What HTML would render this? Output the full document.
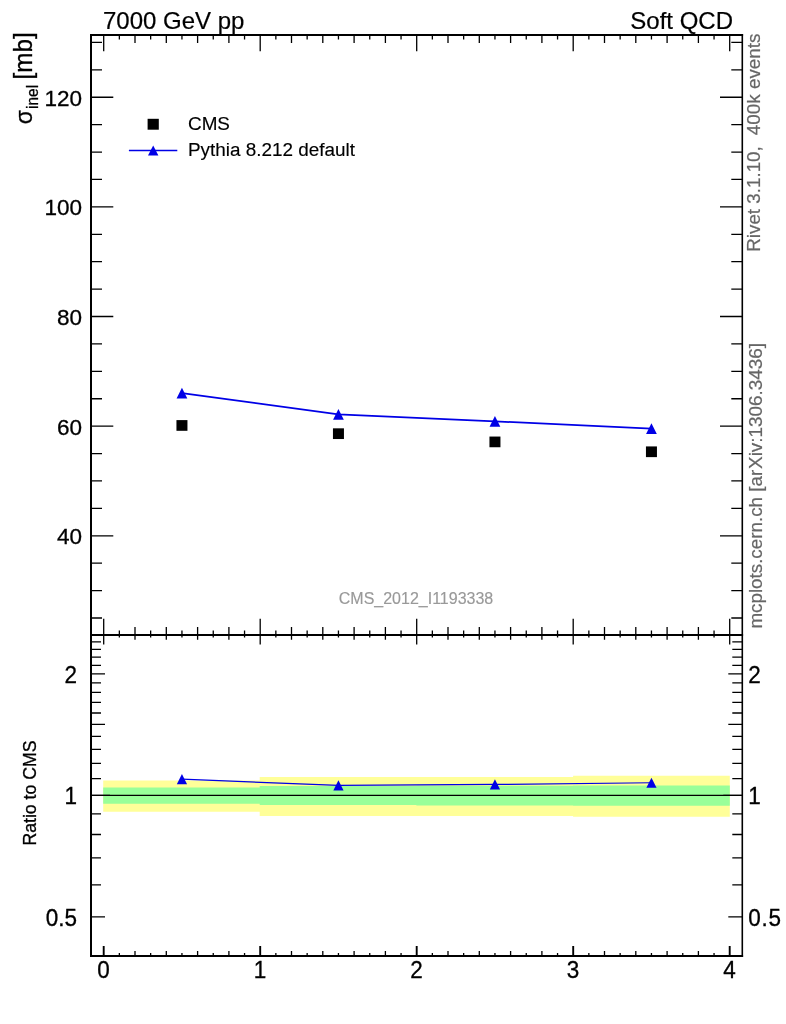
<!DOCTYPE html>
<html lang="en"><head><meta charset="utf-8"><title>CMS_2012_I1193338 – σinel – 7000 GeV pp – Soft QCD</title>
<style>html,body{margin:0;padding:0;background:#fff}svg{display:block}</style></head>
<body>
<svg width="786" height="1024" viewBox="0 0 786 1024" font-family="Liberation Sans, Arial, Helvetica, sans-serif">
<rect width="786" height="1024" fill="#fff"/>
<path d="M103.2 780.4V780.4H259.7V777.0H416.4V777.0H573.1V775.8H729.8V816.8H573.1V815.9H416.4V815.9H259.7V811.8H103.2Z" fill="#ffff99"/>
<path d="M103.2 787.6V787.6H259.7V786.1H416.4V785.8H573.1V785.6H729.8V805.7H573.1V805.5H416.4V805.0H259.7V803.7H103.2Z" fill="#99ff99"/>
<line x1="91.0" y1="795.40" x2="742.3" y2="795.40" stroke="#000" stroke-width="1.2"/>
<path d="M91.00 618.02H102.00M742.30 618.02H731.30M91.00 590.61H102.00M742.30 590.61H731.30M91.00 563.20H102.00M742.30 563.20H731.30M91.00 535.79H113.30M742.30 535.79H720.00M91.00 508.38H102.00M742.30 508.38H731.30M91.00 480.97H102.00M742.30 480.97H731.30M91.00 453.56H102.00M742.30 453.56H731.30M91.00 426.15H113.30M742.30 426.15H720.00M91.00 398.74H102.00M742.30 398.74H731.30M91.00 371.33H102.00M742.30 371.33H731.30M91.00 343.92H102.00M742.30 343.92H731.30M91.00 316.51H113.30M742.30 316.51H720.00M91.00 289.10H102.00M742.30 289.10H731.30M91.00 261.69H102.00M742.30 261.69H731.30M91.00 234.28H102.00M742.30 234.28H731.30M91.00 206.87H113.30M742.30 206.87H720.00M91.00 179.46H102.00M742.30 179.46H731.30M91.00 152.05H102.00M742.30 152.05H731.30M91.00 124.64H102.00M742.30 124.64H731.30M91.00 97.23H113.30M742.30 97.23H720.00M91.00 69.82H102.00M742.30 69.82H731.30M91.00 42.41H102.00M742.30 42.41H731.30M91.00 916.90H105.00M742.30 916.90H728.30M91.00 884.94H101.00M742.30 884.94H732.30M91.00 857.92H101.00M742.30 857.92H732.30M91.00 834.51H101.00M742.30 834.51H732.30M91.00 813.87H101.00M742.30 813.87H732.30M91.00 795.40H110.00M742.30 795.40H723.30M91.00 778.69H101.00M742.30 778.69H732.30M91.00 763.44H101.00M742.30 763.44H732.30M91.00 749.41H101.00M742.30 749.41H732.30M91.00 736.42H101.00M742.30 736.42H732.30M91.00 724.33H105.00M742.30 724.33H728.30M91.00 713.02H101.00M742.30 713.02H732.30M91.00 702.39H101.00M742.30 702.39H732.30M91.00 692.37H101.00M742.30 692.37H732.30M91.00 682.90H101.00M742.30 682.90H732.30M91.00 673.90H105.00M742.30 673.90H728.30M91.00 665.35H101.00M742.30 665.35H732.30M91.00 657.20H101.00M742.30 657.20H732.30M91.00 649.41H101.00M742.30 649.41H732.30M91.00 641.95H101.00M742.30 641.95H732.30M103.70 35.00V51.20M103.70 635.00V618.80M103.70 635.00V644.60M119.35 35.00V39.50M119.35 635.00V630.50M119.35 635.00V637.60M119.35 956.00V953.10M135.00 35.00V43.00M135.00 635.00V627.00M135.00 635.00V639.70M135.00 956.00V951.00M150.65 35.00V39.50M150.65 635.00V630.50M150.65 635.00V637.60M150.65 956.00V953.10M166.30 35.00V43.00M166.30 635.00V627.00M166.30 635.00V639.70M166.30 956.00V951.00M181.95 35.00V39.50M181.95 635.00V630.50M181.95 635.00V637.60M181.95 956.00V953.10M197.60 35.00V43.00M197.60 635.00V627.00M197.60 635.00V639.70M197.60 956.00V951.00M213.25 35.00V39.50M213.25 635.00V630.50M213.25 635.00V637.60M213.25 956.00V953.10M228.90 35.00V43.00M228.90 635.00V627.00M228.90 635.00V639.70M228.90 956.00V951.00M244.55 35.00V39.50M244.55 635.00V630.50M244.55 635.00V637.60M244.55 956.00V953.10M260.20 35.00V51.20M260.20 635.00V618.80M260.20 635.00V644.60M275.85 35.00V39.50M275.85 635.00V630.50M275.85 635.00V637.60M275.85 956.00V953.10M291.50 35.00V43.00M291.50 635.00V627.00M291.50 635.00V639.70M291.50 956.00V951.00M307.15 35.00V39.50M307.15 635.00V630.50M307.15 635.00V637.60M307.15 956.00V953.10M322.80 35.00V43.00M322.80 635.00V627.00M322.80 635.00V639.70M322.80 956.00V951.00M338.45 35.00V39.50M338.45 635.00V630.50M338.45 635.00V637.60M338.45 956.00V953.10M354.10 35.00V43.00M354.10 635.00V627.00M354.10 635.00V639.70M354.10 956.00V951.00M369.75 35.00V39.50M369.75 635.00V630.50M369.75 635.00V637.60M369.75 956.00V953.10M385.40 35.00V43.00M385.40 635.00V627.00M385.40 635.00V639.70M385.40 956.00V951.00M401.05 35.00V39.50M401.05 635.00V630.50M401.05 635.00V637.60M401.05 956.00V953.10M416.70 35.00V51.20M416.70 635.00V618.80M416.70 635.00V644.60M432.35 35.00V39.50M432.35 635.00V630.50M432.35 635.00V637.60M432.35 956.00V953.10M448.00 35.00V43.00M448.00 635.00V627.00M448.00 635.00V639.70M448.00 956.00V951.00M463.65 35.00V39.50M463.65 635.00V630.50M463.65 635.00V637.60M463.65 956.00V953.10M479.30 35.00V43.00M479.30 635.00V627.00M479.30 635.00V639.70M479.30 956.00V951.00M494.95 35.00V39.50M494.95 635.00V630.50M494.95 635.00V637.60M494.95 956.00V953.10M510.60 35.00V43.00M510.60 635.00V627.00M510.60 635.00V639.70M510.60 956.00V951.00M526.25 35.00V39.50M526.25 635.00V630.50M526.25 635.00V637.60M526.25 956.00V953.10M541.90 35.00V43.00M541.90 635.00V627.00M541.90 635.00V639.70M541.90 956.00V951.00M557.55 35.00V39.50M557.55 635.00V630.50M557.55 635.00V637.60M557.55 956.00V953.10M573.20 35.00V51.20M573.20 635.00V618.80M573.20 635.00V644.60M588.85 35.00V39.50M588.85 635.00V630.50M588.85 635.00V637.60M588.85 956.00V953.10M604.50 35.00V43.00M604.50 635.00V627.00M604.50 635.00V639.70M604.50 956.00V951.00M620.15 35.00V39.50M620.15 635.00V630.50M620.15 635.00V637.60M620.15 956.00V953.10M635.80 35.00V43.00M635.80 635.00V627.00M635.80 635.00V639.70M635.80 956.00V951.00M651.45 35.00V39.50M651.45 635.00V630.50M651.45 635.00V637.60M651.45 956.00V953.10M667.10 35.00V43.00M667.10 635.00V627.00M667.10 635.00V639.70M667.10 956.00V951.00M682.75 35.00V39.50M682.75 635.00V630.50M682.75 635.00V637.60M682.75 956.00V953.10M698.40 35.00V43.00M698.40 635.00V627.00M698.40 635.00V639.70M698.40 956.00V951.00M714.05 35.00V39.50M714.05 635.00V630.50M714.05 635.00V637.60M714.05 956.00V953.10M729.70 35.00V51.20M729.70 635.00V618.80M729.70 635.00V644.60" stroke="#000" stroke-width="1.3" fill="none"/>
<path d="M103.70 956.00V946.00M260.20 956.00V946.00M416.70 956.00V946.00M573.20 956.00V946.00M729.70 956.00V946.00" stroke="#000" stroke-width="1.9" fill="none"/>
<path d="M742.3 34.0V957.0" stroke="#000" stroke-width="1.6" fill="none"/>
<path d="M91.0 34.0V957.0 M90.0 35.0H743.0999999999999 M90.0 635.0H743.0999999999999 M90.0 956.0H743.0999999999999" stroke="#000" stroke-width="2" fill="none"/>
<polyline points="181.95,393.09 338.45,414.42 494.95,421.33 651.45,428.62" stroke="#0000e6" stroke-width="1.7" fill="none"/>
<polygon points="181.95,387.79 187.35,398.39 176.55,398.39" fill="#0000e6"/>
<polygon points="338.45,409.12 343.85,419.72 333.05,419.72" fill="#0000e6"/>
<polygon points="494.95,416.03 500.35,426.63 489.55,426.63" fill="#0000e6"/>
<polygon points="651.45,423.32 656.85,433.92 646.05,433.92" fill="#0000e6"/>
<rect x="176.45" y="420.10" width="11" height="10.7" fill="#000"/>
<rect x="332.95" y="428.33" width="11" height="10.7" fill="#000"/>
<rect x="489.45" y="436.55" width="11" height="10.7" fill="#000"/>
<rect x="645.95" y="446.42" width="11" height="10.7" fill="#000"/>
<polyline points="181.95,779.20 338.45,785.42 494.95,784.47 651.45,782.74" stroke="#0000e6" stroke-width="1.2" fill="none"/>
<polygon points="181.95,774.10 187.05,784.30 176.85,784.30" fill="#0000e6"/>
<polygon points="338.45,780.32 343.55,790.52 333.35,790.52" fill="#0000e6"/>
<polygon points="494.95,779.37 500.05,789.57 489.85,789.57" fill="#0000e6"/>
<polygon points="651.45,777.64 656.55,787.84 646.35,787.84" fill="#0000e6"/>
<rect x="147.6" y="118.8" width="11.2" height="10.9" fill="#000"/>
<line x1="128.9" y1="150.4" x2="177.3" y2="150.4" stroke="#0000e6" stroke-width="1.5"/>
<polygon points="153.20,145.45 158.40,155.45 148.00,155.45" fill="#0000e6"/>
<text transform="translate(188.00 129.70) scale(1 0.95)" font-size="18.9" fill="#000" stroke="#000" stroke-width="0.15">CMS</text>
<text transform="translate(188.00 155.60) scale(1 0.95)" font-size="18.9" fill="#000" stroke="#000" stroke-width="0.15">Pythia 8.212 default</text>
<text transform="translate(103.00 28.80) scale(1 1.03)" font-size="24" fill="#000" stroke="#000" stroke-width="0.2">7000 GeV pp</text>
<text transform="translate(733.00 28.80) scale(1 1.03)" font-size="24" text-anchor="end" fill="#000" stroke="#000" stroke-width="0.2">Soft QCD</text>
<text transform="translate(82.00 544.39) scale(1 1.0)" font-size="22.5" text-anchor="end" fill="#000" stroke="#000" stroke-width="0.3">40</text>
<text transform="translate(82.00 434.75) scale(1 1.0)" font-size="22.5" text-anchor="end" fill="#000" stroke="#000" stroke-width="0.3">60</text>
<text transform="translate(82.00 325.11) scale(1 1.0)" font-size="22.5" text-anchor="end" fill="#000" stroke="#000" stroke-width="0.3">80</text>
<text transform="translate(82.00 215.47) scale(1 1.0)" font-size="22.5" text-anchor="end" fill="#000" stroke="#000" stroke-width="0.3">100</text>
<text transform="translate(82.00 105.83) scale(1 1.0)" font-size="22.5" text-anchor="end" fill="#000" stroke="#000" stroke-width="0.3">120</text>
<text transform="translate(77.00 925.70) scale(1 1.06)" font-size="22.5" text-anchor="end" fill="#000" stroke="#000" stroke-width="0.3">0.5</text>
<text transform="translate(748.30 925.70) scale(1 1.06)" font-size="22.5" fill="#000" stroke="#000" stroke-width="0.3" letter-spacing="0.7">0.5</text>
<text transform="translate(77.00 804.20) scale(1 1.06)" font-size="22.5" text-anchor="end" fill="#000" stroke="#000" stroke-width="0.3">1</text>
<text transform="translate(748.30 804.20) scale(1 1.06)" font-size="22.5" fill="#000" stroke="#000" stroke-width="0.3">1</text>
<text transform="translate(77.00 682.70) scale(1 1.06)" font-size="22.5" text-anchor="end" fill="#000" stroke="#000" stroke-width="0.3">2</text>
<text transform="translate(748.30 682.70) scale(1 1.06)" font-size="22.5" fill="#000" stroke="#000" stroke-width="0.3">2</text>
<text transform="translate(103.50 978.30) scale(1 1.05)" font-size="22.5" text-anchor="middle" fill="#000" stroke="#000" stroke-width="0.3">0</text>
<text transform="translate(260.00 978.30) scale(1 1.05)" font-size="22.5" text-anchor="middle" fill="#000" stroke="#000" stroke-width="0.3">1</text>
<text transform="translate(416.50 978.30) scale(1 1.05)" font-size="22.5" text-anchor="middle" fill="#000" stroke="#000" stroke-width="0.3">2</text>
<text transform="translate(573.00 978.30) scale(1 1.05)" font-size="22.5" text-anchor="middle" fill="#000" stroke="#000" stroke-width="0.3">3</text>
<text transform="translate(729.50 978.30) scale(1 1.05)" font-size="22.5" text-anchor="middle" fill="#000" stroke="#000" stroke-width="0.3">4</text>
<text transform="translate(416.00 604.30) scale(1 1.0)" font-size="16" text-anchor="middle" fill="#999" stroke="#999" stroke-width="0.15">CMS_2012_I1193338</text>
<text transform="translate(759.80 251.70) rotate(-90) scale(1 1.0)" font-size="18.8" fill="#666666" stroke="#666666" stroke-width="0.2">Rivet 3.1.10,<tspan x="111.15" font-size="18.9"> 400k events</tspan></text>
<text transform="translate(762.20 628.60) rotate(-90) scale(1 0.95)" font-size="18.8" fill="#666666" stroke="#666666" stroke-width="0.2">mcplots.cern.ch [ar<tspan dx="0.9" font-size="18.9">Xiv:1306.3436]</tspan></text>
<text transform="translate(36.40 845.60) rotate(-90) scale(1 1.03)" font-size="17.7" fill="#000" stroke="#000" stroke-width="0.3">Ratio to CMS</text>
<text transform="translate(31.50 124.30) rotate(-90) scale(1 1.06)" font-size="24" fill="#000" stroke="#000" stroke-width="0.3"><tspan font-size="23">σ</tspan><tspan x="15.30" dy="6.23" font-size="15.5">inel</tspan><tspan x="38.17" dy="-6.23" font-size="24.2"> [mb]</tspan></text>
</svg>
</body></html>
